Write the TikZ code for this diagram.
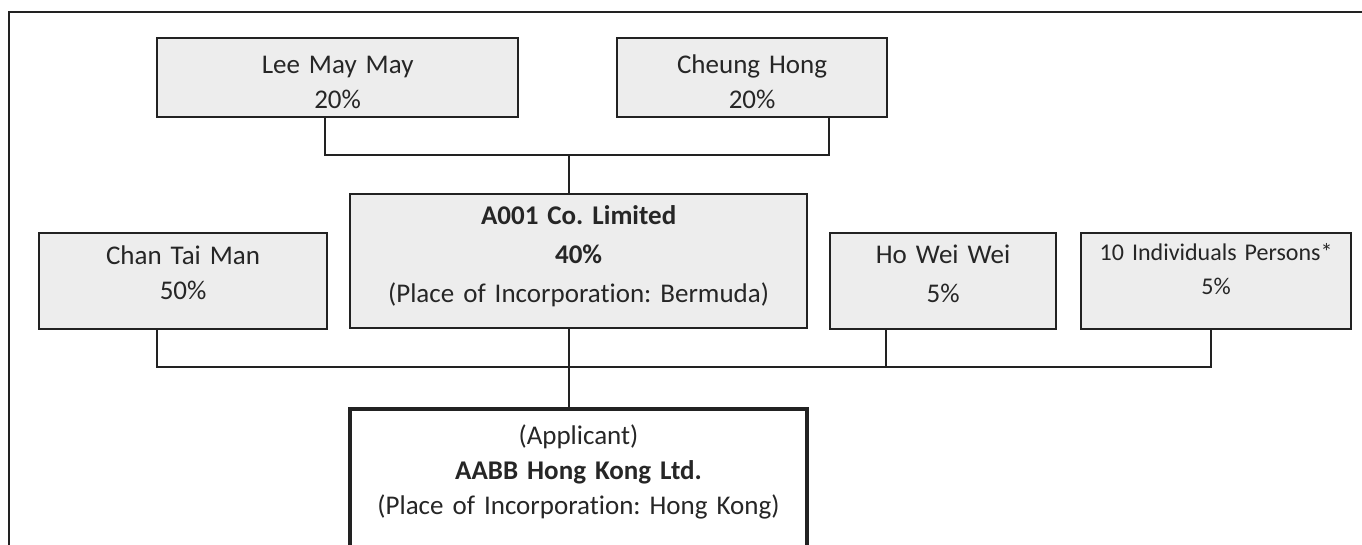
\documentclass[tikz,border=0pt]{standalone}
\usepackage{fontspec}
\setmainfont{Carlito}[Ligatures={NoCommon,NoContextual}]
\frenchspacing
\definecolor{boxgray}{HTML}{EDEDED}
\definecolor{linegray}{HTML}{222222}
\definecolor{textgray}{HTML}{262626}

\begin{document}
\begin{tikzpicture}[x=1pt, y=-1pt]
\tikzset{holder/.style={draw=linegray, line width=2.2pt, fill=boxgray, text=textgray,
    align=center, inner xsep=0pt, inner ysep=0pt, anchor=north west,
    font=\fontsize{27}{35}\selectfont},
  link/.style={draw=linegray, line width=2pt}}
    \clip (0,0) rectangle (1362,545);
    \draw[linegray, line width=2.5pt] (9,545) -- (9,12) -- (1362,12);

    \node[holder, text width=361pt, text height=35pt, text depth=44pt] (lee) at (156,37) {Lee May May\\20\%};
    \node[holder, text width=270pt, text height=35pt, text depth=44pt] (cheung) at (616,37) {Cheung Hong\\20\%};
    \node[holder, text width=288pt, text height=31pt, text depth=65pt] (chan) at (38,232) {Chan Tai Man\\50\%};
    \node[holder, text width=457pt, text height=30pt, text depth=104pt, font=\fontsize{27}{39}\selectfont] (a001) at (349,193)
        {\textbf{A001 Co. Limited}\\\textbf{40\%}\\(Place of Incorporation: Bermuda)};
    \node[holder, text width=226pt, text height=30pt, text depth=66pt, font=\fontsize{27}{39}\selectfont] (ho) at (829,232) {Ho Wei Wei\\5\%};
    \node[holder, text width=270pt, text height=27pt, text depth=69pt, font=\fontsize{24}{34}\selectfont] (ind) at (1080,232)
        {10 Individuals Persons*\\5\%};
    \node[holder, fill=white, line width=4pt, text width=457pt, text height=35pt, text depth=200pt] (app) at (348,407)
        {(Applicant)\\\textbf{AABB Hong Kong Ltd.}\\(Place of Incorporation: Hong Kong)};

    \coordinate (leetap) at (325,155);
    \coordinate (cheungtap) at (829,155);
    \coordinate (upbus) at (569,155);
    \draw[link] (leetap |- lee.south) -- (leetap) -- (cheungtap) -- (cheungtap |- cheung.south);
    \draw[link] (upbus) -- (upbus |- a001.north);

    \coordinate (chantap) at (157,367);
    \coordinate (a001tap) at (569,367);
    \coordinate (hotap) at (886,367);
    \coordinate (indtap) at (1211,367);
    \draw[link] (chantap |- chan.south) -- (chantap) -- (indtap) -- (indtap |- ind.south);
    \draw[link] (a001tap |- a001.south) -- (a001tap |- app.north);
    \draw[link] (hotap |- ho.south) -- (hotap);
\end{tikzpicture}
\end{document}
